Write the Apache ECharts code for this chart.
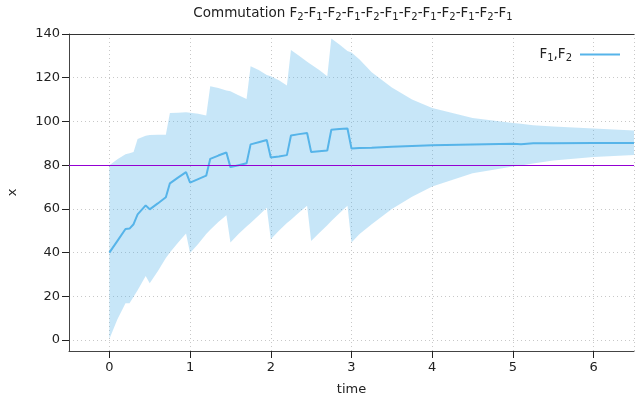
<!DOCTYPE html>
<html>
<head>
<meta charset="utf-8">
<script src="https://cdn.jsdelivr.net/npm/echarts@6/dist/echarts.min.js"></script>
<style>
  html, body { margin: 0; padding: 0; background: #fff; }
  #chart { width: 635px; height: 401px; }
</style>
</head>
<body>
<div id="chart"></div>
<script>
// time samples (shared by mean and band)
const times = [0, 0.1, 0.2, 0.25, 0.3, 0.35, 0.45, 0.5, 0.6, 0.7, 0.75, 0.85, 0.95, 1.0, 1.1, 1.2, 1.25, 1.35, 1.45, 1.5,
  1.6, 1.7, 1.75, 1.85, 1.95, 2.0, 2.1, 2.2, 2.25, 2.35, 2.45, 2.5, 2.6, 2.7, 2.75, 2.85, 2.95, 3.0, 3.1, 3.25,
  3.5, 3.75, 4.0, 4.5, 5.0, 5.1, 5.25, 5.5, 6.0, 6.5]

const meanValues = [40, 45.4, 50.8, 51, 53, 57.5, 61.6, 59.8, 62.5, 65.3, 71.7, 74.3, 76.8, 72, 73.6, 75.2, 82.9, 84.4, 85.8, 79.1,
  80, 80.9, 89.5, 90.5, 91.5, 83.5, 84, 84.6, 93.6, 94.2, 94.7, 86, 86.4, 86.7, 96.2, 96.5, 96.8, 87.6, 87.8, 88,
  88.4, 88.8, 89.1, 89.5, 89.8, 89.6, 90, 90, 90.1, 90.1]

const upperValues = [80, 82.7, 85, 85.5, 86, 92, 93.5, 93.8, 93.9, 93.9, 103.9, 104, 104.2, 104, 103.5, 102.7, 116.1, 115.3, 114.2, 113.8,
  112, 110.3, 125.3, 123.5, 121.3, 120.7, 118.8, 116.5, 132.7, 130, 127.3, 126.1, 123.5, 120.7, 137.9, 135.2, 132.2, 131.5, 128.3, 122.5,
  115.5, 110, 106.2, 101.6, 99.3, 99, 98.3, 97.7, 96.8, 95.9]

const lowerValues = [0.5, 9.5, 16.8, 16.8, 19.8, 22.8, 29.3, 26, 31.5, 37.5, 40, 44.5, 48.7, 39.8, 44, 48.5, 50.5, 54, 57.1, 44.6,
  48.5, 52, 53.5, 57, 60.5, 46.1, 50, 53.5, 55, 58.3, 61.4, 45.3, 49, 52.5, 54.5, 58, 61.4, 44.6, 48.5, 53,
  60, 65.5, 70.2, 76.3, 79.4, 79.9, 80.8, 82.1, 83.7, 84.7]

const refLevel = 80
const order = ['2', '1', '2', '1', '2', '1', '2', '1', '2', '1', '2', '1']

const font = 'DejaVu Sans'
const textColor = '#222'
const lineColor = '#56b4e9'
const tickStyle = { show: true, inside: false, length: 7, lineStyle: { color: '#222', width: 1 } }

const subRich = {
  s: { fontSize: 10, lineHeight: 8, verticalAlign: 'bottom', fontFamily: font, color: textColor }
}

const chart = echarts.init(document.getElementById('chart'))

const option = {
  animation: false,
  title: {
    text: 'Commutation ' + order.map(k => 'F{s|' + k + '}').join('-'),
    left: 348,
    top: 0,
    textAlign: 'center',
    textStyle: {
      fontFamily: font,
      fontSize: 13.5,
      fontWeight: 'normal',
      color: textColor,
      lineHeight: 17,
      rich: subRich
    }
  },
  legend: {
    right: 10,
    top: 41,
    align: 'right',
    itemWidth: 40,
    itemHeight: 2,
    data: [{ name: 'F1,F2', icon: 'rect' }],
    formatter: () => 'F{s|1},F{s|2}',
    textStyle: {
      fontFamily: font,
      fontSize: 13.5,
      color: textColor,
      lineHeight: 17,
      padding: [0, 3, 0, 0],
      rich: subRich
    }
  },
  grid: { left: 69, right: 1, top: 34, bottom: 50, containLabel: false, outerBoundsMode: 'none' },
  xAxis: [
    {
      type: 'value',
      min: -0.5,
      max: 6.5,
      splitNumber: 7,
      name: 'time',
      nameLocation: 'middle',
      nameGap: 32,
      nameTextStyle: { fontFamily: font, fontSize: 13, color: textColor },
      axisLine: { show: true, onZero: false, lineStyle: { color: '#444' } },
      axisTick: tickStyle,
      axisLabel: {
        showMinLabel: false,
        showMaxLabel: false,
        margin: 10,
        fontFamily: font,
        fontSize: 13,
        color: textColor
      },
      splitLine: { show: true, lineStyle: { color: '#c8c8c8', type: [1, 3] } }
    },
    {
      type: 'value',
      position: 'top',
      min: -0.5,
      max: 6.5,
      splitNumber: 7,
      axisLine: { show: true, onZero: false, lineStyle: { color: '#333' } },
      axisTick: { show: false },
      axisLabel: { show: false },
      splitLine: { show: false }
    }
  ],
  yAxis: [
    {
      type: 'value',
      min: -5,
      max: 140,
      splitNumber: 7,
      name: 'x',
      nameLocation: 'middle',
      nameRotate: 90,
      nameGap: 50,
      nameTextStyle: { fontFamily: font, fontSize: 13, color: textColor },
      axisLine: { show: true, onZero: false, lineStyle: { color: '#444' } },
      axisTick: tickStyle,
      axisLabel: {
        showMinLabel: false,
        margin: 9,
        fontFamily: font,
        fontSize: 13,
        color: textColor
      },
      splitLine: { show: true, lineStyle: { color: '#c8c8c8', type: [1, 3] } }
    }
  ],
  series: [
    {
      // band between lower and upper
      name: 'band',
      type: 'custom',
      silent: true,
      z: 1,
      data: times.map((t, i) => [t, lowerValues[i], upperValues[i]]),
      encode: { x: 0, y: [1, 2] },
      renderItem: (params, api) => {
        if (params.dataIndex !== 0) return null
        const top = times.map((t, i) => api.coord([t, upperValues[i]]))
        const bottom = times.map((t, i) => api.coord([t, lowerValues[i]])).reverse()
        return {
          type: 'polygon',
          shape: { points: top.concat(bottom) },
          style: { fill: 'rgba(86,180,233,0.33)' }
        }
      }
    },
    {
      name: 'F1,F2',
      type: 'line',
      z: 3,
      symbol: 'none',
      color: lineColor,
      lineStyle: { width: 2, color: lineColor },
      data: times.map((t, i) => [t, meanValues[i]]),
      markLine: {
        silent: true,
        symbol: 'none',
        label: { show: false },
        lineStyle: { color: '#9400d3', width: 1, type: 'solid' },
        data: [{ yAxis: refLevel }]
      }
    }
  ]
}

chart.setOption(option)
</script>
</body>
</html>
